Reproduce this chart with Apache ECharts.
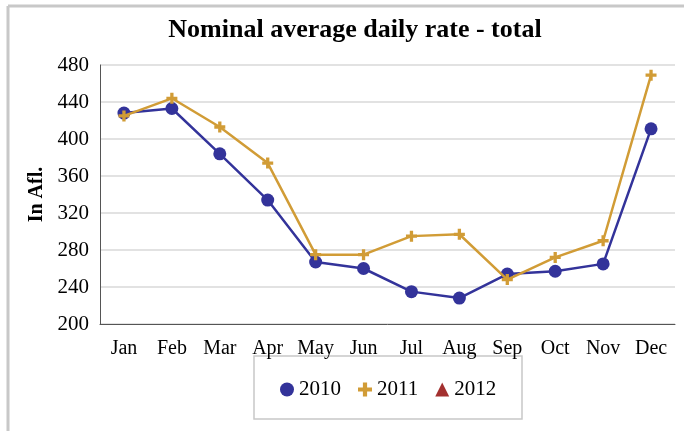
<!DOCTYPE html>
<html>
<head>
<meta charset="utf-8">
<script src="https://cdn.jsdelivr.net/npm/echarts@6/dist/echarts.min.js"></script>
<style>
  html, body { margin: 0; padding: 0; background: #fff; }
  #chart { width: 684px; height: 431px; }
</style>
</head>
<body>
<div id="chart"></div>
<script>
// Monthly nominal average daily rate (Afl.)
const months = ['Jan', 'Feb', 'Mar', 'Apr', 'May', 'Jun', 'Jul', 'Aug', 'Sep', 'Oct', 'Nov', 'Dec'];
const rate2010 = [428, 433, 384, 334, 267, 260, 235, 228, 254, 257, 265, 411];
const rate2011 = [425, 444, 413, 374, 275, 275, 295, 297, 248, 272, 290, 469];
const rate2012 = [];
const yTicks = { min: 200, max: 480, step: 40 };

const FONT = '"Liberation Serif", "Times New Roman", serif';
const plusPath = 'path://M3.5,0H6.5V3.5H10V6.5H6.5V10H3.5V6.5H0V3.5H3.5Z';

const COLORS = { y2010: '#33339a', y2011: '#d19c36', y2012: '#a3302f' };

const chart = echarts.init(document.getElementById('chart'));
chart.setOption({
  animation: false,
  backgroundColor: '#fff',
  title: {
    text: 'Nominal average daily rate - total',
    left: 350, textAlign: 'center', top: 12,
    textStyle: { fontFamily: FONT, fontSize: 26, fontWeight: 'bold', color: '#000' }
  },
  grid: { left: 100, right: 9, top: 65, bottom: 107 },
  xAxis: {
    type: 'category',
    data: months,
    boundaryGap: true,
    axisLine: { lineStyle: { color: '#555', width: 1 } },
    axisTick: { show: false },
    axisLabel: { fontFamily: FONT, fontSize: 20, color: '#000', margin: 15 }
  },
  yAxis: {
    type: 'value',
    min: yTicks.min, max: yTicks.max, interval: yTicks.step,
    name: 'In Afl.',
    nameLocation: 'middle',
    nameGap: 50,
    nameRotate: 90,
    nameTextStyle: { fontFamily: FONT, fontSize: 20, fontWeight: 'bold', color: '#000' },
    axisLine: { show: true, lineStyle: { color: '#555', width: 1 } },
    axisTick: { show: false },
    axisLabel: { fontFamily: FONT, fontSize: 21, color: '#000', margin: 11 },
    splitLine: { lineStyle: { color: '#d9d9d9', width: 1.5 } }
  },
  legend: {
    left: 275, top: 374,
    itemWidth: 14, itemHeight: 14, itemGap: 17,
    textStyle: { fontFamily: FONT, fontSize: 21, color: '#000' },
    data: [
      { name: '2010', icon: 'circle' },
      { name: '2011', icon: plusPath },
      { name: '2012', icon: 'triangle' }
    ]
  },
  graphic: [
    { type: 'line', shape: { x1: 8, y1: 6, x2: 8, y2: 431 }, style: { stroke: '#c8c8c8', lineWidth: 3 } },
    { type: 'line', shape: { x1: 8, y1: 6, x2: 684, y2: 6 }, style: { stroke: '#c8c8c8', lineWidth: 3 } },
    { type: 'rect', shape: { x: 254, y: 356, width: 268, height: 63 }, style: { fill: 'none', stroke: '#c8c8c8', lineWidth: 1.5 } }
  ],
  series: [
    {
      name: '2010', type: 'line', data: rate2010,
      symbol: 'circle', symbolSize: 13,
      lineStyle: { color: COLORS.y2010, width: 2.5 },
      itemStyle: { color: COLORS.y2010 },
      z: 3
    },
    {
      name: '2011', type: 'line', data: rate2011,
      symbol: plusPath, symbolSize: 11,
      lineStyle: { color: COLORS.y2011, width: 2.5 },
      itemStyle: { color: COLORS.y2011 },
      z: 4
    },
    {
      name: '2012', type: 'line', data: rate2012,
      symbol: 'triangle', symbolSize: 12,
      lineStyle: { color: COLORS.y2012, width: 2.5 },
      itemStyle: { color: COLORS.y2012 }
    }
  ]
});
</script>
</body>
</html>
